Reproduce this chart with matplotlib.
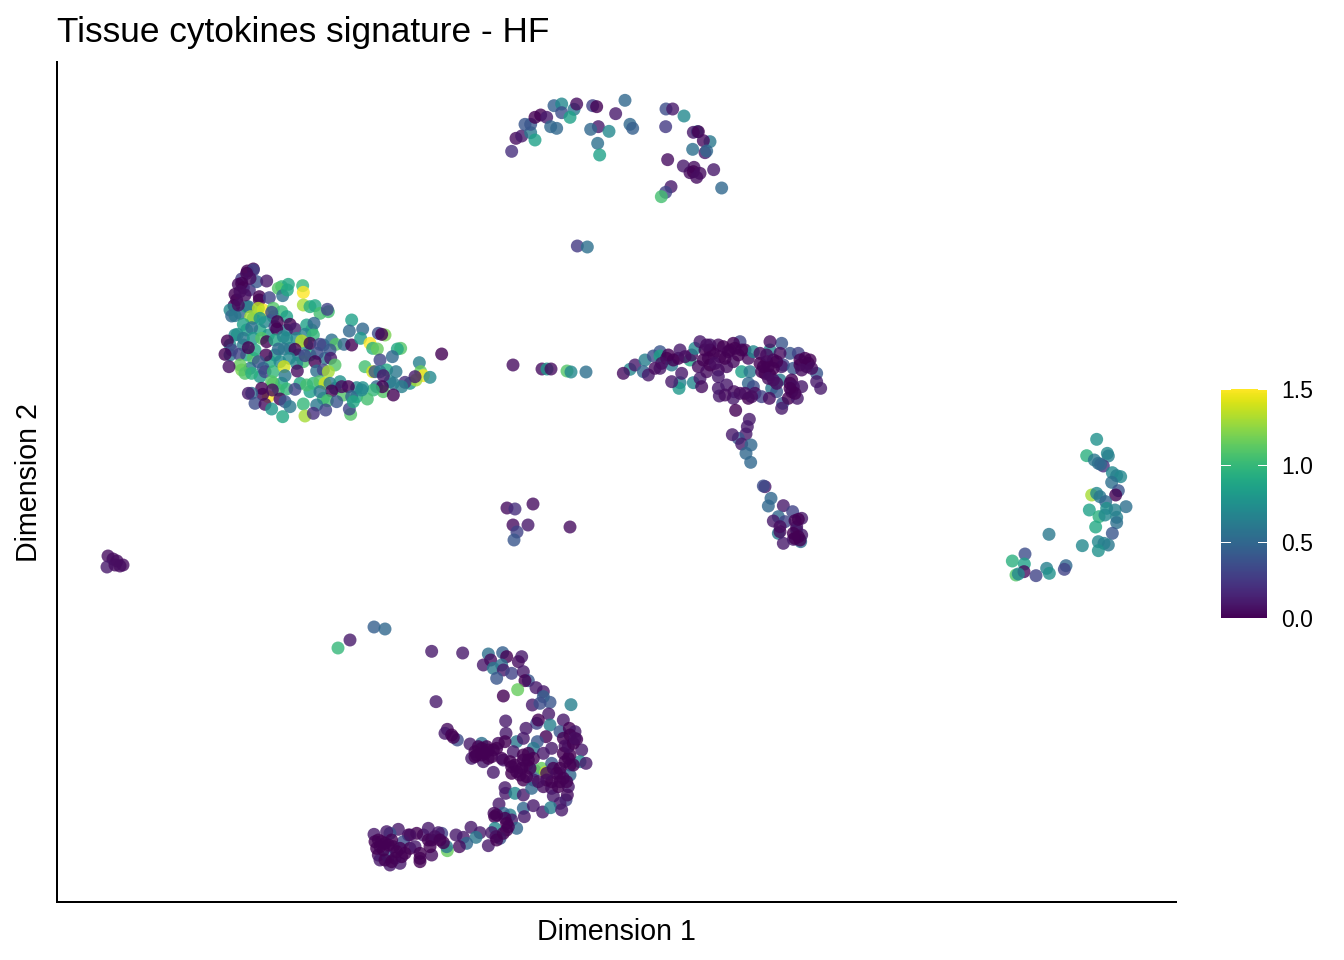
#!/usr/bin/env python3
"""UMAP style scatter: tissue cytokines signature score per cell."""

import matplotlib

matplotlib.use("Agg")
import matplotlib.pyplot as plt
import numpy as np

plt.rcParams["font.family"] = ["Liberation Sans", "DejaVu Sans"]

# every cluster is (dim1, dim2, score)
left_tip = [
    (108, 556, 0.05), (113, 559, 0.05), (117, 561, 0.05), (120, 566, 0.05),
    (123, 565, 0.05), (107, 567, 0.1), (115, 565, 0.05),
]
small_bottom = [(338, 648, 1.0), (350, 640, 0.1), (374, 627, 0.45), (385, 629, 0.5)]
small_middle = [
    (507, 508, 0.05), (515, 509, 0.2), (533, 504, 0.05), (513, 525, 0.05),
    (528, 525, 0.1), (517, 532, 0.3), (514, 540, 0.4), (570, 527, 0.05),
]
bridge = [
    (513, 365, 0.05), (542, 369, 0.05), (547, 369, 0.8), (551, 369, 0.05),
    (567, 371, 1.1), (571, 372, 0.7), (586, 372, 0.55),
]

# the next clusters were read from 3x zooms, so (x, y) are crop coordinates
blob_origin = (210, 255)
blob = [
    (75,240,0.7),(110,225,0.85),(60,270,0.75),(150,225,0.9),(175,240,0.8),(230,225,0.6),(60,300,0.6),
    (110,300,0.9),(130,310,1.1),(95,345,1.2),(180,320,0.9),(195,300,0.8),(240,280,0.55),(265,300,0.6),
    (290,270,0.8),(300,300,0.9),(345,310,0.6),(340,270,0.45),(120,340,0.6),(150,365,0.8),(190,385,1.2),
    (215,385,0.9),(205,405,1.05),(270,385,0.9),(300,410,0.85),(340,430,1.0),(375,400,0.5),(400,420,1.1),
    (440,425,0.9),(540,380,0.7),(500,395,0.5),(600,385,0.8),(280,320,1.05),(260,325,0.7),(100,270,0.6),
    (230,250,0.75),(305,225,1.0),(130,190,0.85),(190,185,0.6),(165,200,0.7),(140,170,1.05),(90,175,0.5),
    (130,42,0.0),(112,48,0),(95,72,0.25),(85,88,0.05),(100,98,0.0),(118,105,0.2),(75,118,0),(80,135,0),
    (72,152,0),(140,80,0.4),(170,78,0.1),(130,45,0.3),(148,125,0),(148,135,0),(178,128,0.3),
    (60,165,0.7),(65,183,0.5),(75,182,0.6),(110,155,0.9),(115,155,0.55),(160,165,1.5),(145,160,1.35),
    (190,160,1.1),(215,170,1.0),(122,185,1.3),(150,190,0.8),(185,172,0.35),(230,185,0.85),
    (215,95,1.0),(235,88,0.9),(205,100,1.1),(218,122,0.55),(232,105,0.9),(278,92,1.0),(280,112,1.5),
    (280,150,1.3),(300,155,0.95),(315,152,0.9),(330,175,1.05),(355,170,1.05),(352,163,0.3),
    (100,208,0.85),(125,218,0.55),(195,215,0.3),(202,200,0),(200,222,0),(240,208,0),(255,222,0.1),
    (290,210,0.85),(312,205,0.5),(285,238,0.65),(310,240,1.0),(260,250,0.7),(275,258,1.35),(300,265,0),
    (365,255,0.55),(378,268,1.1),(402,268,0.5),(425,270,0),(425,195,0.85),(418,228,0.5),(458,222,0.5),
    (452,250,0.8),(525,240,1.2),(505,235,0.35),(515,238,0),(480,265,1.5),(488,280,0.95),(502,282,1.15),
    (572,280,1.1),(562,282,0.9),(547,305,0.5),(82,238,0.75),(100,250,0.6),(130,250,0.8),(155,250,1.1),
    (52,258,0),(170,260,0),(195,255,0.9),(220,245,0.7),(65,285,0.3),(45,298,0),(88,298,0.3),(135,285,0.9),
    (115,278,0),(168,300,0),(145,320,0.4),(160,340,0.45),(205,282,0.5),(222,282,0.6),(255,283,0),
    (285,302,0.3),(330,268,0.3),(322,295,0.35),(360,285,0.4),(362,310,0.1),(315,320,0),(375,330,1.1),
    (90,330,1.15),(57,335,0.05),(105,355,1.1),(125,355,0.95),(165,350,0.3),(190,350,1.0),(210,320,0.7),
    (238,310,0.7),(222,335,1.4),(262,348,0.05),(225,362,0.6),(320,348,0.55),(340,345,0.3),(355,350,1.3),
    (465,335,1.05),(488,350,1.4),(495,350,0.4),(510,315,0.3),(530,345,0.9),(558,350,0.6),(510,350,0.6),
    (628,323,0.65),(632,350,1.15),(640,362,1.5),(660,367,0.7),(618,375,1.3),(615,365,0.1),(585,382,0.2),
    (550,385,0.6),(575,395,0.65),(520,362,0.1),(520,410,1.1),(517,395,0),(550,420,0),(490,405,1.0),
    (472,432,1.05),(458,398,0.75),(440,398,0.7),(695,297,0),(185,380,1.1),(175,425,1.5),(155,400,0),
    (158,418,0.0),(187,405,0.05),(230,402,1.0),(255,403,0.3),(290,390,1.05),(310,385,1.0),(330,380,1.1),
    (345,385,1.4),(360,385,0.6),(390,380,0.75),(415,395,0),(395,395,0.05),(365,408,0),(330,410,0.6),
    (352,437,1.05),(320,450,0.6),(280,447,1.0),(125,415,0.5),(115,415,0.1),(135,445,0.35),(165,448,0.05),
    (210,432,0),(225,440,0.4),(240,455,0.6),(185,462,0.8),(218,485,0.9),(285,483,1.3),(310,475,0.2),
    (347,465,0.3),(380,440,0.4),(422,478,1.1),(418,462,0.3),(425,425,0.5),(430,440,0.9),(455,405,0.7),
    (110,55,0),(120,70,0.05),(95,85,0),(90,110,0.05),(105,120,0.05),(85,150,0.05),
]

arc_origin = (500, 90)
arc = [
    (35,184,0.2),(48,145,0.05),(65,138,0.1),(92,128,0.6),(105,150,0.85),(75,103,0.4),(92,103,0.4),
    (105,82,0),(122,75,0),(140,82,0.1),(152,110,0.5),(170,115,0.5),(162,47,0.45),(185,42,0.7),(185,68,0.35),
    (222,58,0.6),(210,82,0.85),(230,42,0.05),(278,47,0.3),(290,50,0.0),(295,110,0.1),(272,118,0.5),
    (327,124,0.7),(347,71,0.1),(375,31,0.5),(390,103,0.5),(398,115,0.45),(293,160,0.55),(299,195,0.85),
    (498,57,0.35),(518,57,0.1),(552,78,0.7),(497,110,0.25),(592,125,0.6),(580,127,0.1),(595,125,0),
    (630,155,0.6),(610,152,0.05),(578,178,0.55),(615,188,0.1),(620,183,0.5),(503,209,0.05),(550,228,0.1),
    (582,232,0.05),(570,248,0.05),(580,245,0),(600,250,0.05),(590,262,0.05),(641,239,0.1),(665,294,0.5),
    (513,290,0.1),(497,307,0.3),(484,320,1.05),(232,468,0.25),(262,471,0.55),
]

band_origin = (610, 330)
band = [
    (60,118,0.7),(40,130,0.05),(75,105,0.1),(105,90,0.65),(100,125,0.5),(115,135,0.1),(130,78,0.35),
    (150,65,0.4),(150,78,0.85),(150,115,0.1),(170,85,0.0),(210,158,0.65),(207,175,0.8),(185,155,0.1),
    (215,130,0.1),(185,105,0.6),(205,85,0),(210,60,0.1),(240,90,0.9),(245,75,0.05),(250,158,0.7),(255,55,0.7),
    (270,35,0.1),(265,110,0.05),(270,145,0.1),(275,170,0.05),(290,125,0.05),(285,60,0),(300,45,0.1),
    (325,45,0.05),(295,85,0.05),(325,120,0.05),(330,80,0),(325,140,0.1),(390,35,0.3),(355,65,0),(370,40,0),
    (405,60,0.05),(350,110,0.05),(370,95,0.05),(395,125,0.85),(420,125,0.6),(415,85,0.05),(430,65,0.7),
    (325,175,0.1),(350,165,0.1),(328,198,0.1),(372,185,0.05),(370,205,0.1),(415,160,0.5),(430,170,0.35),
    (405,190,0.05),(415,205,0),(435,190,0.05),(455,200,0.3),(485,175,0.6),(500,185,0.4),(478,205,0.05),
    (480,60,0.7),(515,40,0.4),(450,70,0.05),(480,35,0.05),(540,70,0.4),(565,70,0.3),(510,70,0.05),
    (470,95,0),(490,90,0),(465,130,0),(480,135,0),(520,105,0.3),(515,110,0.1),(510,150,0.6),(490,150,0.05),
    (550,115,0.4),(545,150,0.0),(570,90,0),(595,100,0),(590,110,0),(620,130,0.4),(620,155,0.1),(632,175,0.1),
    (575,170,0.1),(518,220,0.4),(545,185,0.05),(535,205,0),(562,205,0.1),(515,235,0.1),
    (377,241,0),(418,268,0.1),(412,290,0.1),(408,312,0.1),(385,325,0.4),(367,314,0.1),(395,342,0.1),
    (423,345,0.5),(408,370,0.5),(422,397,0.5),(465,470,0.1),(460,468,0.35),(483,505,0.5),(475,528,0.5),
    (520,527,0.1),(548,545,0.3),(505,560,0.5),(490,573,0.1),(525,575,0.3),(575,565,0.1),(555,572,0),
    (505,610,0.6),(510,605,0.05),(560,600,0.4),(575,615,0.1),(572,635,0.5),(520,640,0.1),(550,628,0.1),(570,630,0),
    (300,60,0),(310,70,0),(280,90,0),(300,105,0),(315,100,0.05),(345,85,0),(360,60,0),(385,75,0),(395,60,0),
    (175,75,0),(190,90,0),(225,80,0.05),(135,115,0.05),(155,100,0.05),(290,45,0.05),(340,50,0),(375,55,0),
    (450,100,0),(460,110,0),(475,110,0),(490,115,0),(470,75,0.05),(500,95,0),(455,125,0),(475,145,0.05),
    (570,105,0),(585,85,0),(600,90,0),(575,120,0.05),(605,115,0.05),(540,160,0),(550,170,0.05),(540,175,0),
    (390,190,0.05),(425,200,0.05),(345,195,0.05),(555,190,0),(500,160,0.05),(560,590,0.05),(565,568,0),(550,610,0),
    (510,590,0.05),(555,625,0),(565,620,0),
]

horseshoe_origin = (360, 640)
horseshoe = [
    (215,34,0.1),(308,39,0.1),(385,42,0.55),(428,38,0.45),(370,75,0.1),(392,60,0.05),(440,50,0),(485,50,0.1),
    (475,65,0.05),(425,75,0.55),(400,85,0.6),(430,90,0.1),(455,100,0.3),(410,115,0.4),(490,95,0.1),
    (505,122,0.4),(495,122,0.0),(473,149,1.15),(430,168,0),(528,143,0.1),(550,155,0.1),(570,187,0.4),
    (550,170,0.45),(517,195,0.1),(540,190,0.35),(633,194,0.65),(228,185,0.1),(566,222,0.1),(437,243,0.1),
    (610,240,0.1),(570,255,0.65),(530,250,0.3),(535,240,0),(498,265,0.1),(438,280,0.1),(262,268,0.05),
    (255,280,0.1),(292,300,0.35),(280,292,0),(600,275,0.4),(628,265,0.0),(645,275,0.1),(558,290,0),(470,305,0.6),
    (490,295,0.1),(532,305,0.4),(610,295,0),(650,298,0),(365,310,0.55),(330,312,0.1),(415,310,0.05),(435,305,0),
    (615,318,0.05),(665,330,0.1),(575,325,0.1),(520,325,0.6),(345,335,0),(365,325,0),(385,330,0),(400,330,0),
    (335,355,0.1),(370,365,0.1),(365,345,0),(395,350,0),(460,335,0.1),(490,345,0),(505,340,0),(550,340,0.1),
    (520,355,0),(430,360,0.1),(425,355,0.02),(660,365,0.7),(678,370,0.1),(630,345,0),(630,375,0),(400,397,0.1),
    (455,380,0),(470,395,0),(500,375,0),(525,392,0.5),(545,385,1.15),(557,397,1.35),(575,370,0.4),(580,385,0),
    (630,405,0.5),(600,400,0.1),(490,420,0.0),(520,420,0.1),(435,443,0.1),(437,460,0.1),(465,460,0.7),
    (490,465,0.1),(515,445,0.5),(550,440,0.05),(575,445,0.05),(600,425,0),(625,440,0.1),(580,468,0.1),
    (618,480,0.3),(622,465,0.05),(600,490,0.1),(417,492,0.1),(490,505,0.5),(520,497,0.1),(548,516,0.1),
    (572,503,0.65),(605,510,0.1),(493,530,0.1),(450,525,0.65),(430,520,0.5),(402,520,0.05),(404,530,0),
    (455,540,0.1),(470,565,0.5),(333,562,0.1),(405,565,0.7),(440,550,0),(440,570,0),(395,578,0.1),(360,578,0.1),
    (348,592,0.6),(288,585,0.1),(310,592,0.1),(320,610,0.5),(298,620,0.05),(385,617,0.1),(420,595,0.4),(408,590,0.05),
    (262,632,1.15),(260,620,0.6),(245,580,0.3),(250,608,0),(235,578,0.1),(205,565,0.1),(215,600,0),(215,645,0.05),
    (180,665,0),(190,585,0.1),(170,580,0),(145,585,0),(115,568,0.1),(90,580,0.4),(80,575,0.1),(42,583,0.1),
    (45,605,0),(60,620,0),(75,610,0),(100,620,0),(130,605,0.35),(150,625,0),(165,620,0.1),(180,640,0),
    (55,645,0.05),(60,660,0.1),(85,650,0.4),(90,675,0.1),(105,655,0),(120,670,0.1),(135,640,0),
    (350,345,0),(375,340,0),(380,320,0),(410,325,0),(355,320,0),(385,355,0),(345,350,0),(275,285,0),
    (450,365,0),(465,375,0),(485,385,0),(505,360,0),(510,385,0),(480,405,0),(500,410,0),(455,400,0),(490,360,0),
    (560,420,0),(575,425,0),(595,440,0),(610,415,0),(620,425,0),(590,400,0),(600,385,0),(615,365,0),(625,355,0),
    (640,375,0),(610,340,0),(625,320,0.05),(640,310,0),(630,285,0),(645,295,0.05),(560,400,0.05),(535,425,0.05),
    (410,525,0),(435,535,0),(445,560,0),(430,580,0),(410,600,0),
    (55,600,0),(70,630,0),(85,615,0),(50,625,0),(65,605,0),(95,600,0),(110,635,0),(125,650,0),(95,665,0),(75,660,0),
    (150,585,0.05),(205,600,0),(225,590,0.05),(210,620,0),(240,600,0),(180,655,0),(120,625,0),
]

crescent_origin = (1000, 430)
crescent = [
    (290,28,0.75),(260,77,0.95),(283,90,0.6),(322,70,0.7),(325,78,0.65),(310,108,0.2),(295,100,0.55),
    (302,103,0.5),(337,128,0.7),(350,137,0.65),(362,140,0.7),(335,157,0.55),(275,195,1.3),(290,190,0.7),
    (355,182,0.4),(347,195,0.0),(300,200,0.6),(317,215,0.5),(268,240,0.85),(378,230,0.55),(320,235,0.75),
    (345,240,0.65),(350,262,0.65),(297,260,0.95),(315,255,0.7),(350,278,0.55),(287,291,0.9),(337,310,0.4),
    (147,313,0.6),(247,347,0.7),(295,335,0.7),(325,345,0.6),(312,340,0.65),(295,362,0.75),(75,372,0.35),
    (37,393,0.95),(73,402,0.85),(140,415,0.65),(198,407,0.5),(193,418,0.3),(148,430,0.75),(108,437,0.3),
    (48,435,1.1),(72,425,0.05),(55,432,0.7),
]

score_ticks = [0.0, 0.5, 1.0, 1.5]


def from_crop(origin, points):
    """Crop coordinates (3x zoom) back to the plot's scale."""
    return [(origin[0] + x / 3, origin[1] + y / 3, v) for x, y, v in points]


cells = (
    left_tip + small_bottom + small_middle + bridge
    + from_crop(blob_origin, blob)
    + from_crop(arc_origin, arc)
    + from_crop(band_origin, band)
    + from_crop(horseshoe_origin, horseshoe)
    + from_crop(crescent_origin, crescent)
)
cells = np.array(cells)

W, H = 1344, 960
fig = plt.figure(figsize=(W / 144, H / 144), dpi=144)
ax = fig.add_axes([57 / W, 1 - 902 / H, (1176 - 57) / W, (902 - 62) / H])

points = ax.scatter(
    cells[:, 0], cells[:, 1], c=cells[:, 2], cmap="viridis",
    vmin=0, vmax=1.5, s=42, alpha=0.8, linewidths=0,
)
ax.set_xlim(57, 1176)
ax.set_ylim(902, 62)
ax.set_xticks([])
ax.set_yticks([])
ax.spines["top"].set_visible(False)
ax.spines["right"].set_visible(False)
ax.spines["left"].set_linewidth(1.0)
ax.spines["bottom"].set_linewidth(1.0)
ax.set_title("Tissue cytokines signature - HF", loc="left", fontsize=17.6, pad=10)
ax.set_xlabel("Dimension 1", fontsize=14.3, labelpad=8)
ax.set_ylabel("Dimension 2", fontsize=14.3, labelpad=7)

# legend bar with short white ticks like ggplot
cax = fig.add_axes([1221 / W, 1 - 618 / H, 46 / W, 229 / H])
sm = plt.cm.ScalarMappable(cmap="viridis", norm=plt.Normalize(0, 1.5))
cbar = fig.colorbar(sm, cax=cax, ticks=score_ticks)
cbar.outline.set_visible(False)
cbar.ax.set_yticklabels([f"{t:.1f}" for t in score_ticks], fontsize=11.5)
cbar.ax.tick_params(length=0, pad=7)
for t in score_ticks:
    cax.plot([0, 0.2], [t, t], color="white", lw=0.5, clip_on=False)
    cax.plot([0.8, 1], [t, t], color="white", lw=0.5, clip_on=False)
cax.set_xlim(0, 1)
cax.set_ylim(0, 1.5)

fig.savefig("out.png", dpi=144)
